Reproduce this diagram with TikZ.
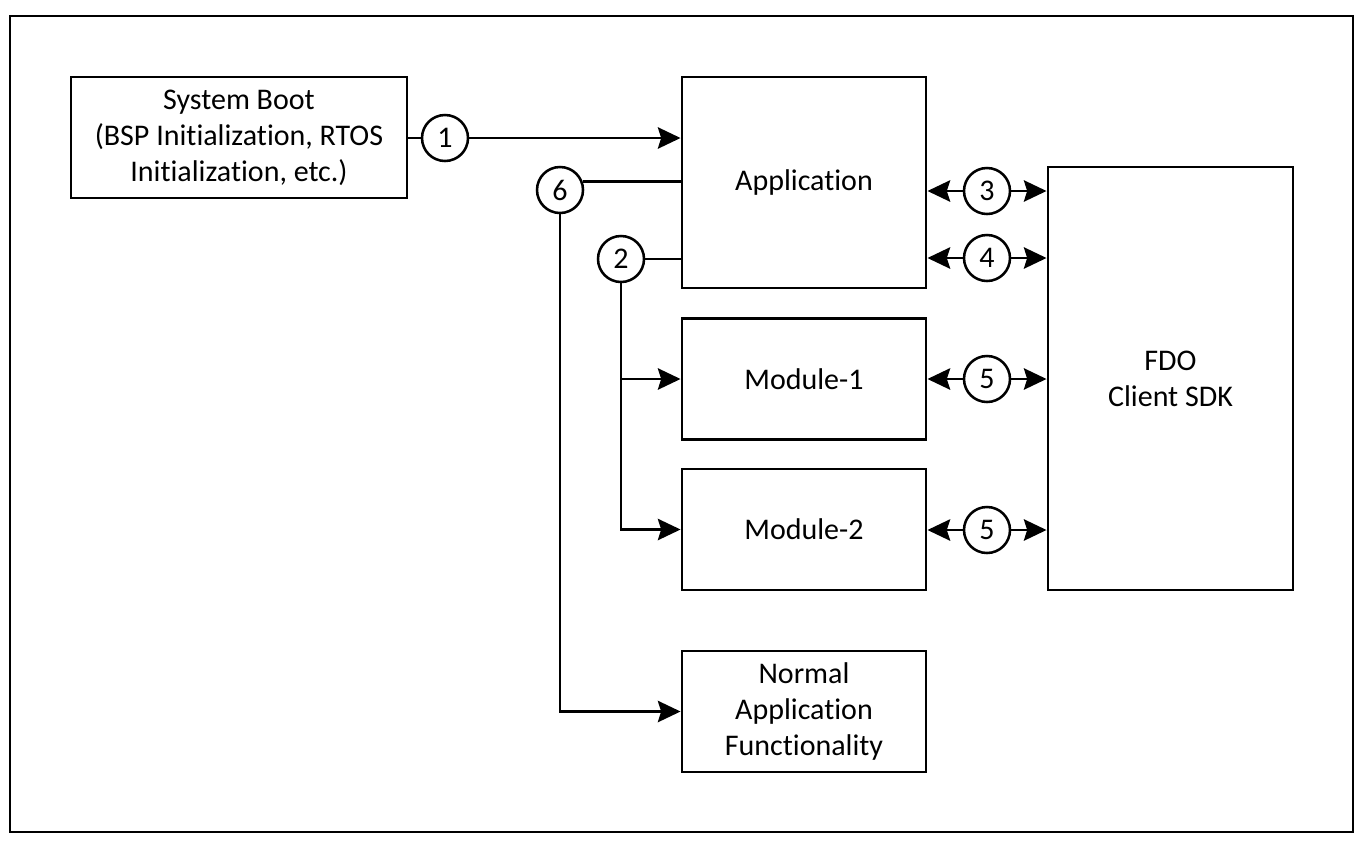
\documentclass[tikz,border=0pt]{standalone}
\usepackage{fontspec}
\setmainfont{Carlito}[Ligatures={NoCommon}]
\usetikzlibrary{arrows.meta}
\begin{document}
\begin{tikzpicture}[x=0.75pt,y=-0.75pt,
  every node/.style={font=\fontsize{22.5}{27}\selectfont},
  blk/.style={draw, line width=2.2pt, rectangle, inner sep=0pt, align=center, minimum width=183pt},
  num/.style={draw, line width=1.9pt, circle, inner sep=0pt, minimum size=34.5pt},
  conn/.style={line width=2.1pt},
  arr/.style={conn, -{Stealth[length=17pt,width=16pt,inset=2.5pt]}}
]
\useasboundingbox (0,0) rectangle (1366,843);
\draw[line width=1.4pt] (10,16) rectangle (1353,832);

\node[blk, minimum width=252pt, minimum height=90.75pt] (boot) at (239,137.5) {System Boot\\(BSP Initialization, RTOS\\Initialization, etc.)};
\node[blk, minimum height=158.25pt] (app) at (804,182.5) {Application};
\node[blk, minimum height=90.75pt] (m1) at (804,379) {Module-1};
\node[blk, minimum height=90.75pt] (m2) at (804,529.5) {Module-2};
\node[blk, minimum height=90.75pt] (normal) at (804,711.5) {Normal\\Application\\Functionality};
\node[blk, minimum width=183.75pt, minimum height=317.25pt] (fdo) at (1170.5,378.5) {FDO\\Client SDK};

\node[num] (c1) at (445,138) {1};
\node[num] (c6) at (560,190) {6};
\node[num] (c2) at (621,259) {2};
\node[num] (c3) at (987,191) {3};
\node[num] (c4) at (987,258) {4};
\node[num] (c5a) at (987,379) {5};
\node[num] (c5b) at (987,530) {5};

\draw[conn] (boot.east |- c1) -- (c1);
\draw[arr] (c1) -- (c1 -| app.west);
\draw[conn] (c6.20) -- (c6.20 -| app.west);
\draw[conn] (c2) -- (c2 -| app.west);
\draw[arr] (c2.south) |- (m1.west);
\draw[arr] (c2.south) |- (m2.west);
\draw[arr] (c6.south) |- (normal.west);

\foreach \c in {c3,c4,c5a,c5b}{
  \draw[arr] (\c) -- (\c -| app.east);
  \draw[arr] (\c) -- (\c -| fdo.west);
}
\end{tikzpicture}
\end{document}
